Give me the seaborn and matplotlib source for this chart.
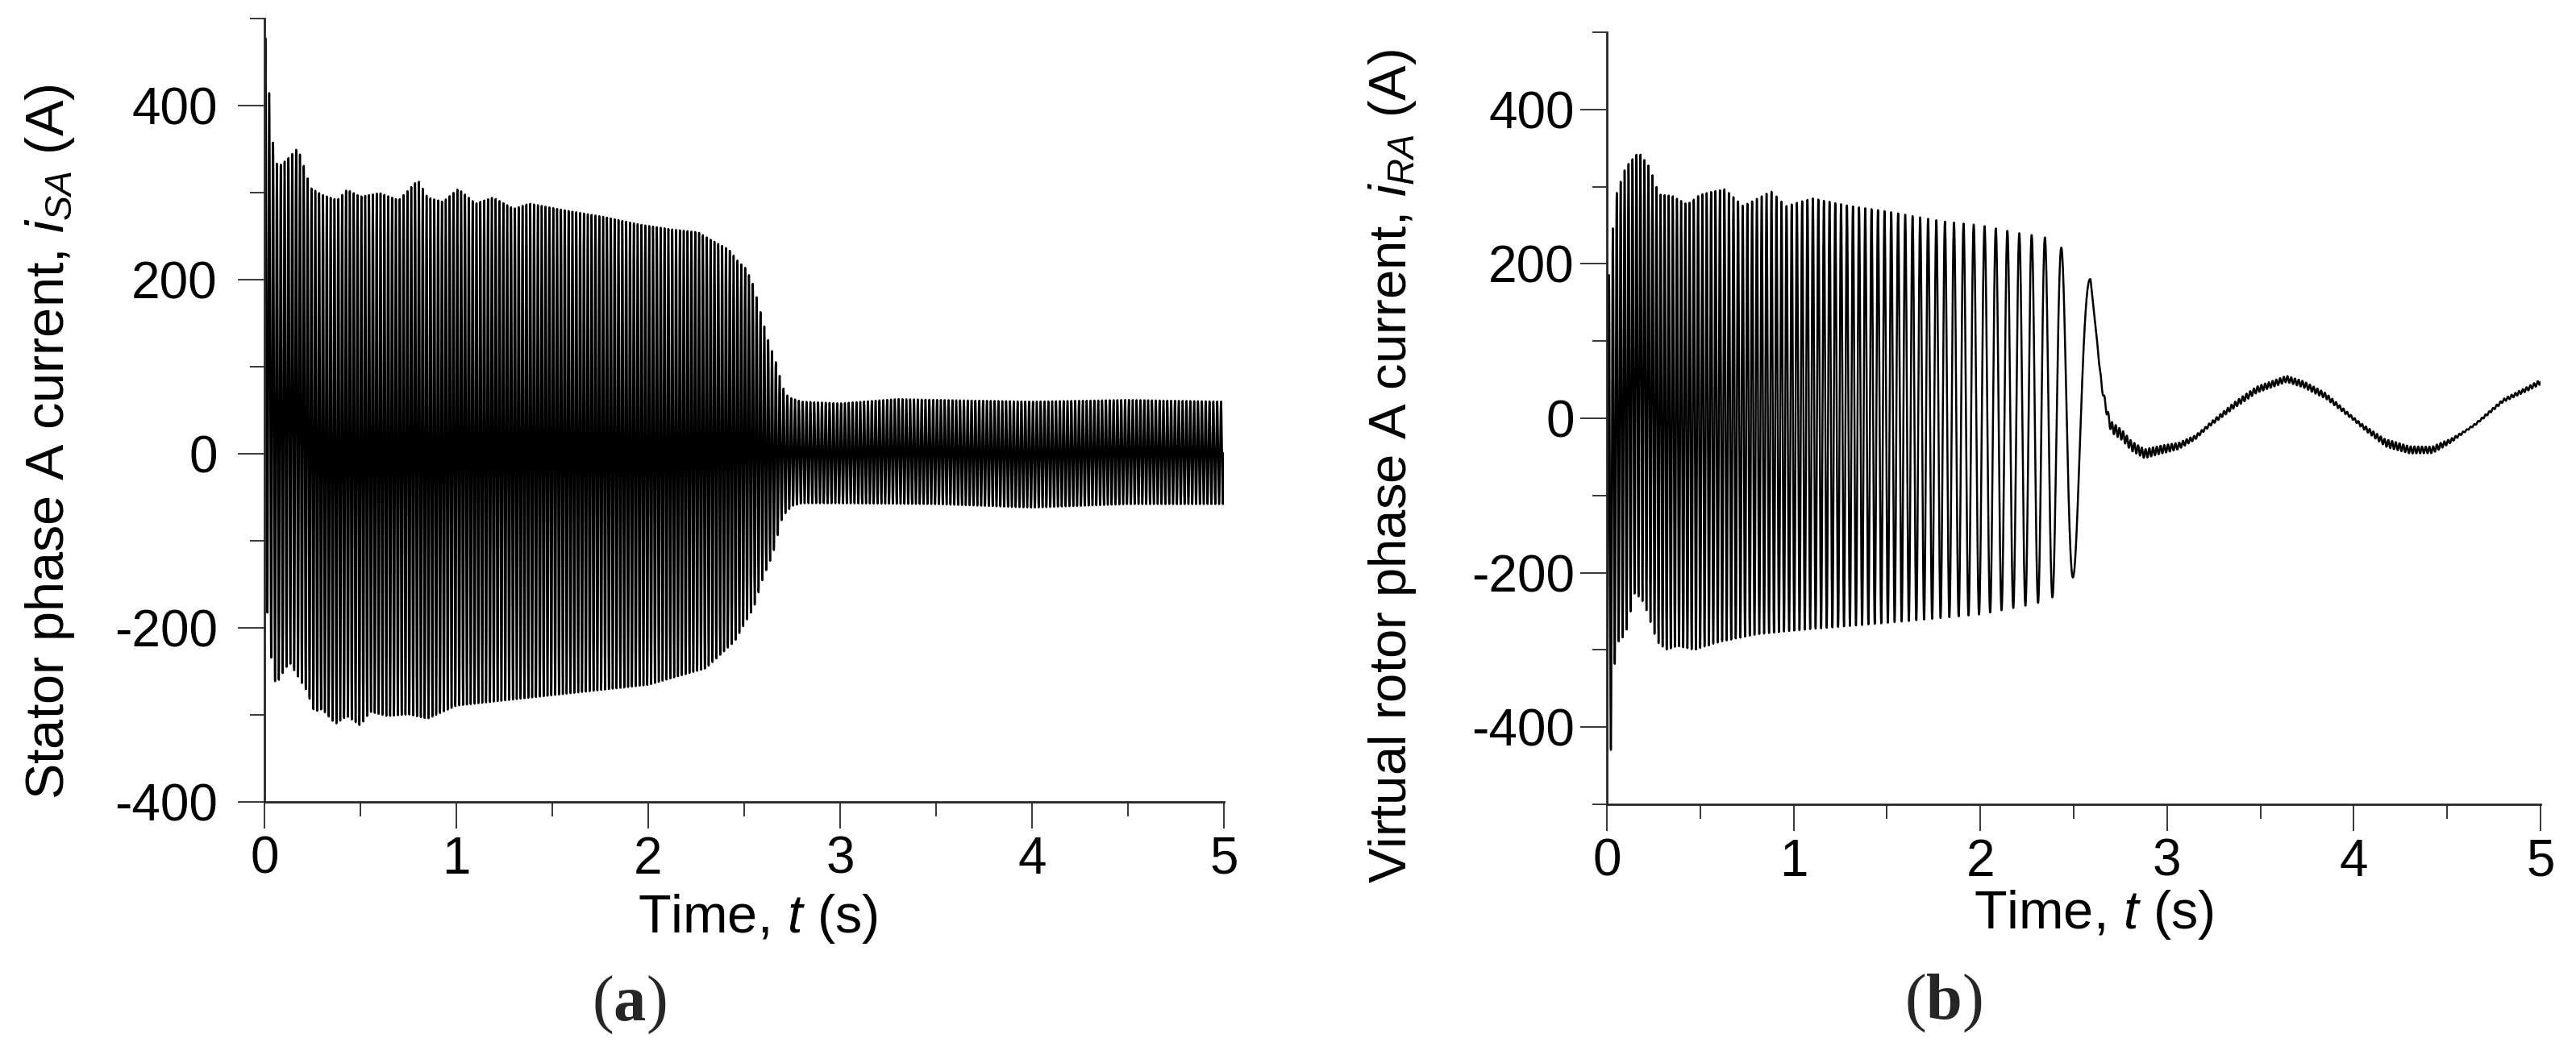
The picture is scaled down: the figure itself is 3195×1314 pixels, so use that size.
import matplotlib
matplotlib.use('Agg')
import matplotlib.pyplot as plt
from matplotlib.ticker import MultipleLocator
import seaborn as sns
import numpy as np
import pandas as pd

# ---- (a) stator phase A current: 50 Hz, envelope ----
stator_freq = 50.0
stator_t0 = 0.005  # first (highest) peak
stator_upper_t = [0.0, 0.012, 0.02, 0.035, 0.05, 0.07, 0.12, 0.17, 0.19, 0.24, 0.3, 0.38, 0.43,
                  0.5, 0.6, 0.7, 0.8, 0.85, 0.93, 1.01, 1.1, 1.19, 1.3, 1.38, 1.57, 1.76, 1.95,
                  2.13, 2.26, 2.32, 2.42, 2.47, 2.51, 2.55, 2.58, 2.62, 2.67, 2.70, 2.73, 2.8,
                  3.0, 3.3, 3.5, 4.0, 4.5, 5.0]
stator_upper = [478, 478, 430, 383, 345, 330, 339, 351, 342, 306, 298, 292, 304,
                296, 300, 292, 315, 295, 290, 305, 288, 295, 282, 288, 280, 273, 264,
                258, 255, 247, 235, 221, 213, 193, 167, 134, 102, 77, 65, 60,
                58, 63, 62, 60, 62, 60]
stator_lower_t = [0.0, 0.017, 0.04, 0.06, 0.08, 0.13, 0.22, 0.26, 0.3, 0.37, 0.43, 0.5, 0.55,
                  0.64, 0.75, 0.85, 1.0, 1.5, 2.0, 2.3, 2.45, 2.55, 2.6, 2.65, 2.7, 2.75, 2.8,
                  3.0, 3.5, 4.0, 4.5, 5.0]
stator_lower = [-100, -193, -246, -267, -258, -240, -273, -297, -294, -311, -302, -313, -297,
                -302, -300, -305, -290, -278, -266, -247, -216, -177, -142, -115, -72, -60, -57,
                -57, -58, -62, -58, -58]

# ---- (b) virtual rotor phase A current: slip frequency falls to ~0 at sync ----
rotor_freq_t = [0.0, 0.3, 0.6, 1.0, 1.5, 2.0, 2.2, 2.3, 2.38, 2.45, 2.52, 2.59]
rotor_freq = [48, 46, 42, 36, 28, 17, 15.5, 14.5, 12, 8.5, 6, 4]
rotor_upper_t = [0.0, 0.013, 0.05, 0.1, 0.17, 0.23, 0.28, 0.35, 0.43, 0.5, 0.63, 0.73, 0.88,
                 0.96, 1.1, 1.3, 1.5, 1.8, 2.0, 2.2, 2.34, 2.43, 2.59]
rotor_upper = [100, 200, 290, 325, 345, 325, 290, 288, 277, 290, 297, 275, 294,
               275, 285, 275, 268, 255, 250, 240, 235, 222, 180]
rotor_lower_t = [0.0, 0.022, 0.035, 0.06, 0.1, 0.15, 0.2, 0.27, 0.32, 0.38, 0.47, 0.6, 0.8,
                 1.0, 1.5, 2.0, 2.3, 2.43, 2.5, 2.59]
rotor_lower = [-430, -430, -330, -290, -280, -225, -240, -290, -300, -295, -300, -290, -280,
               -275, -265, -254, -240, -228, -205, -205]
sync_time = 2.59
rotor_slow_t = [2.59, 2.65, 2.68, 2.70, 2.76, 2.81, 2.88, 2.96, 3.06, 3.15, 3.23, 3.36, 3.48,
                3.64, 3.73, 3.85, 3.95, 4.05, 4.17, 4.30, 4.42, 4.52, 4.65, 4.80, 4.92, 5.0]
rotor_slow = [180, 41, 6, -11, -22, -36, -46, -41, -36, -25, -8, 17, 37,
              51, 44, 29, 9, -11, -32, -41, -41, -29, -8, 23, 37, 47]
ripple_t = [2.6, 2.7, 3.0, 3.2, 3.4, 3.8, 4.0, 4.2, 4.45, 4.6, 5.0]
ripple = [0, 7, 5, 2, 4, 4, 2, 5, 4, 1, 3]

W, H = 3195, 1314
dt = 0.0004
t = np.arange(0, 5 + dt / 2, dt)

# stator waveform
up = np.interp(t, stator_upper_t, stator_upper)
lo = np.interp(t, stator_lower_t, stator_lower)
i_sa = (up + lo) / 2 + (up - lo) / 2 * np.cos(2 * np.pi * stator_freq * (t - stator_t0))
df_a = pd.DataFrame({'t': t, 'i': i_sa})

# rotor waveform
f = np.interp(t, rotor_freq_t, rotor_freq)
phase = 2 * np.pi * np.cumsum(f) * dt
k = np.searchsorted(t, sync_time)
phase = phase - phase[k] + 2 * np.pi * np.round(phase[k] / (2 * np.pi))
up = np.interp(t, rotor_upper_t, rotor_upper)
lo = np.interp(t, rotor_lower_t, rotor_lower)
fast = (up + lo) / 2 + (up - lo) / 2 * np.cos(phase)
slow = np.interp(t, rotor_slow_t, rotor_slow) + \
    np.interp(t, ripple_t, ripple) * np.sin(2 * np.pi * 50 * t)
i_ra = np.where(t <= sync_time, fast, slow)
df_b = pd.DataFrame({'t': t, 'i': i_ra})

sns.set_style('ticks')
plt.rcParams['font.family'] = ['Liberation Sans', 'DejaVu Sans']
plt.rcParams['mathtext.fontset'] = 'custom'
plt.rcParams['mathtext.it'] = 'Liberation Sans:italic'
plt.rcParams['mathtext.rm'] = 'Liberation Sans'
plt.rcParams['mathtext.bf'] = 'Liberation Serif:bold'
plt.rcParams['axes.unicode_minus'] = False

fig = plt.figure(figsize=(W / 100, H / 100), dpi=100)
ax_a = fig.add_axes([328 / W, 1 - 995 / H, 1190 / W, 972 / H])
ax_b = fig.add_axes([1993 / W, 1 - 998 / H, 1158 / W, 958 / H])

sns.lineplot(data=df_a, x='t', y='i', ax=ax_a, color='black', linewidth=1.8,
             estimator=None, sort=False)
sns.lineplot(data=df_b, x='t', y='i', ax=ax_b, color='black', linewidth=1.8,
             estimator=None, sort=False)

panels = [
    (ax_a, (-400, 500), r'Stator phase A current, $i_{SA}$ (A)', 48, (-0.2235, 0.46), 18),
    (ax_b, (-500, 500), r'Virtual rotor phase A current, $i_{RA}$ (A)', 47, (-0.23, 0.438), 5),
]
for ax, ylim, ylab, ysize, ypos, ypad in panels:
    ax.set_xlim(0, 5)
    ax.set_ylim(*ylim)
    ax.xaxis.set_major_locator(MultipleLocator(1))
    ax.xaxis.set_minor_locator(MultipleLocator(0.5))
    ax.yaxis.set_major_locator(MultipleLocator(200))
    ax.yaxis.set_minor_locator(MultipleLocator(100))
    ax.set_yticks([-400, -200, 0, 200, 400])
    sns.despine(ax=ax)
    for s in ['left', 'bottom']:
        ax.spines[s].set_linewidth(2)
    ax.tick_params(which='major', length=24, width=1.1, direction='out', labelsize=46,
                   color='black', labelcolor='black')
    ax.tick_params(which='minor', length=13, width=1.1, direction='out', color='black')
    ax.tick_params(axis='x', which='major', pad=6)
    ax.tick_params(axis='y', which='major', pad=ypad)
    ax.set_ylabel(ylab, fontsize=ysize, color='black', va='center')
    ax.yaxis.set_label_coords(*ypos)
    ax.set_xlabel(r'Time, $t$ (s)', fontsize=48, color='black', va='center')

ax_a.xaxis.set_label_coords(0.514, -0.149)
ax_b.xaxis.set_label_coords(0.5216, -0.143)

fig.text(780 / W, 1 - 1247 / H, r'($\mathbf{a}$)', family='Liberation Serif',
         fontsize=58, ha='center', va='center')
fig.text(2410 / W, 1 - 1245 / H, r'($\mathbf{b}$)', family='Liberation Serif',
         fontsize=58, ha='center', va='center')

fig.savefig('out.png', dpi=100, facecolor='white')
